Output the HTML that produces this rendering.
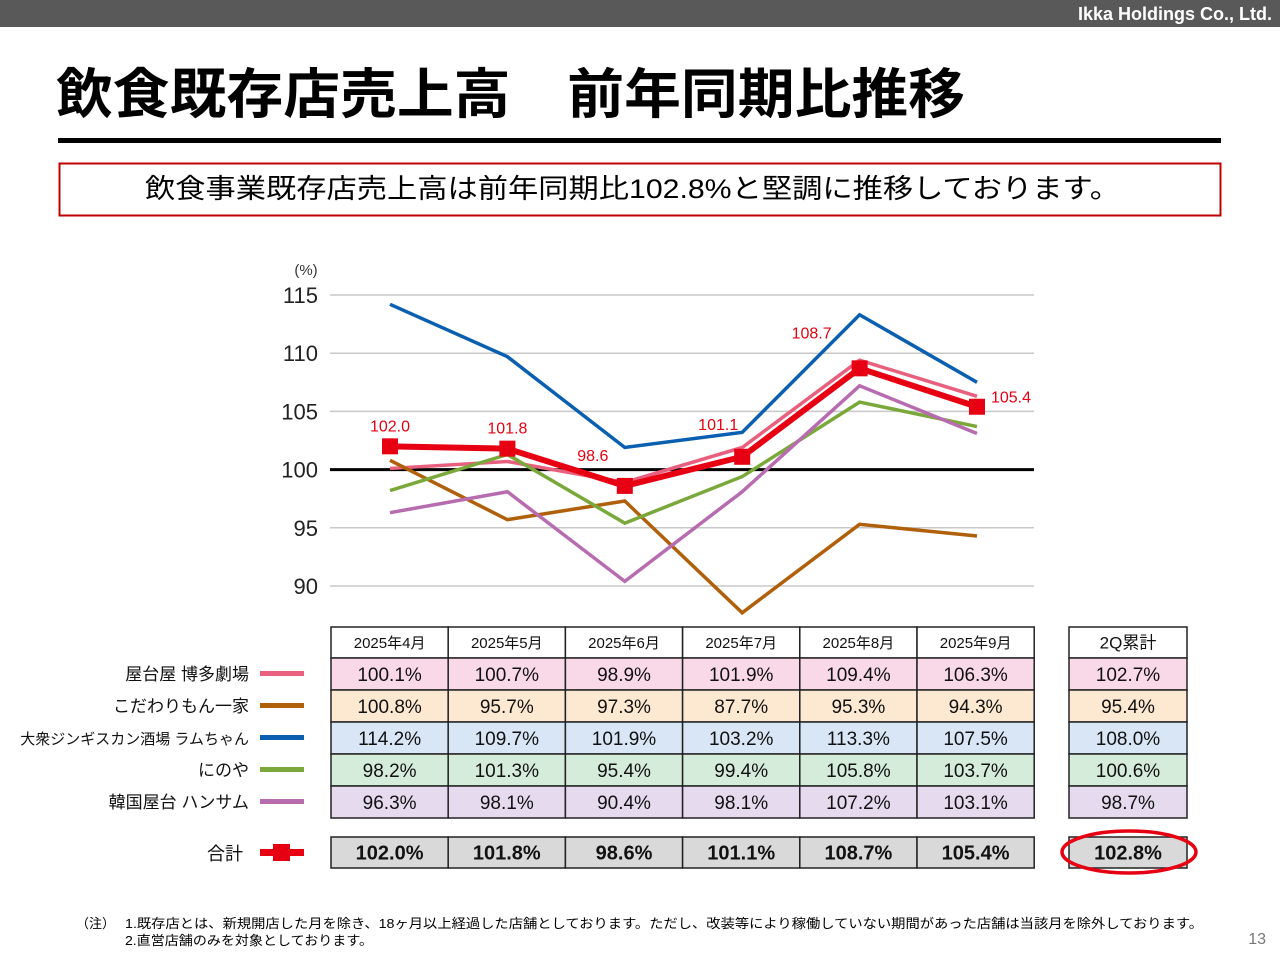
<!DOCTYPE html>
<html><head><meta charset="utf-8"><style>
html,body{margin:0;padding:0;background:#fff;}
svg{display:block;font-family:"Liberation Sans","Noto Sans CJK JP",sans-serif;}
</style></head><body>
<svg id="s" width="1280" height="960" viewBox="0 0 1280 960" xmlns="http://www.w3.org/2000/svg">
<rect x="0" y="0" width="1280" height="27" fill="#595959"/>
<text x="1272" y="20" text-anchor="end" fill="#fff" font-size="18" font-weight="bold">Ikka Holdings Co., Ltd.</text>
<text x="56" y="113" font-size="54" font-weight="bold" fill="#000" textLength="909" lengthAdjust="spacingAndGlyphs">飲食既存店売上高　前年同期比推移</text>
<rect x="58" y="138" width="1163" height="5" fill="#000"/>
<rect x="59.5" y="163.5" width="1161" height="52" fill="#fff" stroke="#c00000" stroke-width="2"/>
<text x="145" y="198" font-size="27" fill="#000" textLength="975" lengthAdjust="spacingAndGlyphs">飲食事業既存店売上高は前年同期比102.8%と堅調に推移しております。</text>
<g id="chart"></g>
<g id="table"></g>
<text x="76" y="928" font-size="13">（注）</text>
<text x="125" y="928" font-size="13" textLength="1078" lengthAdjust="spacingAndGlyphs">1.既存店とは、新規開店した月を除き、18ヶ月以上経過した店舗としております。ただし、改装等により稼働していない期間があった店舗は当該月を除外しております。</text>
<text x="125" y="945" font-size="13" textLength="248" lengthAdjust="spacingAndGlyphs">2.直営店舗のみを対象としております。</text>
<text x="1266" y="944" text-anchor="end" font-size="16" fill="#777">13</text>
</svg>
<script>
const months=["2025年4月","2025年5月","2025年6月","2025年7月","2025年8月","2025年9月"];
const seriesNames=["屋台屋 博多劇場","こだわりもん一家","大衆ジンギスカン酒場 ラムちゃん","にのや","韓国屋台 ハンサム"];
const yatai=[100.1,100.7,98.9,101.9,109.4,106.3];
const kodawari=[100.8,95.7,97.3,87.7,95.3,94.3];
const ramu=[114.2,109.7,101.9,103.2,113.3,107.5];
const ninoya=[98.2,101.3,95.4,99.4,105.8,103.7];
const hansamu=[96.3,98.1,90.4,98.1,107.2,103.1];
const total=[102.0,101.8,98.6,101.1,108.7,105.4];
const q2=[102.7,95.4,108.0,100.6,98.7];
const q2Total=102.8;
const yTicks=[90,95,100,105,110,115];

const NS="http://www.w3.org/2000/svg";
function mk(tag,attrs,parent,txt){const e=document.createElementNS(NS,tag);for(const k in attrs)e.setAttribute(k,attrs[k]);if(txt!==undefined)e.textContent=txt;parent.appendChild(e);return e;}
const x=i=>390+i*117.4;
const y=v=>586-(v-90)*11.64;
const chart=document.getElementById('chart');
const colors=["#e8607e","#b0600a","#0a5fb0","#7aa83a","#b86cb0"];
const bgs=["#f9d9e8","#fde9d2","#d9e6f5","#d6ecdb","#e5daee"];
const all=[yatai,kodawari,ramu,ninoya,hansamu];

let t=mk('text',{x:306,y:275,'text-anchor':'middle','font-size':15,fill:'#333'},chart,'(%)');

yTicks.forEach(v=>{
  const g=mk('line',{x1:330,x2:1034,y1:y(v),y2:y(v),stroke:v===100?'#000':'#c8c8c8','stroke-width':v===100?3:1.5},chart);
  
  const l=mk('text',{x:318,y:y(v)+8,'text-anchor':'end','font-size':22,fill:'#222'},chart,v);
  
});
all.forEach((arr,si)=>{
  const p=mk('polyline',{points:arr.map((v,i)=>x(i)+','+y(v)).join(' '),fill:'none',stroke:colors[si],'stroke-width':3.5},chart);
  
});
const tl=mk('polyline',{points:total.map((v,i)=>x(i)+','+y(v)).join(' '),fill:'none',stroke:'#e60012','stroke-width':6},chart);

const lblOff=[[0,-15],[0,-15],[-32,-25],[-24,-27],[-48,-30],[34,-4]];
total.forEach((v,i)=>{
  const r=mk('rect',{x:x(i)-8,y:y(v)-8,width:16,height:16,fill:'#e60012'},chart);
  
  const l=mk('text',{x:x(i)+lblOff[i][0],y:y(v)+lblOff[i][1],'text-anchor':'middle','font-size':16,fill:'#e60012'},chart,v.toFixed(1));
  
});

const tb=document.getElementById('table');
const cw=117.2,x0=331;
function cell(cx,cy,w,h,fill,txt,fs,bold,name){
  const r=mk('rect',{x:cx,y:cy,width:w,height:h,fill:fill,stroke:'#222','stroke-width':1.5},tb);
  
  const tt=mk('text',{x:cx+w/2,y:cy+h/2+fs*0.36,'text-anchor':'middle','font-size':fs,'font-weight':bold?'bold':'normal',fill:'#111'},tb,txt);
  
}
months.forEach((m,i)=>cell(x0+i*cw,627,cw,31,'#fff',m,15,false,'month-header'));
cell(1069,627,118,31,'#fff','2Q累計',17,false,'q2-header');
all.forEach((arr,si)=>{
  const ry=658+si*32;
  arr.forEach((v,i)=>cell(x0+i*cw,ry,cw,32,bgs[si],v.toFixed(1)+'%',19,false,'series-value'));
  cell(1069,ry,118,32,bgs[si],q2[si].toFixed(1)+'%',19,false,'q2-value');
  const lab=mk('text',{x:249,y:ry+22,'text-anchor':'end','font-size':si===2?15:17,fill:'#111'},tb,seriesNames[si]);
  
  const sw=mk('rect',{x:260,y:ry+13,width:44,height:5,fill:colors[si]},tb);
  
});
total.forEach((v,i)=>cell(x0+i*cw,837,cw,31,'#d9d9d9',v.toFixed(1)+'%',20,true,'total-value'));
cell(1069,837,118,31,'#d9d9d9',q2Total.toFixed(1)+'%',20,true,'q2-total');
let tt2=mk('text',{x:243,y:860,'text-anchor':'end','font-size':18,fill:'#111'},tb,'合計');

let a=mk('rect',{x:260,y:849,width:44,height:7,fill:'#e60012'},tb);
let b=mk('rect',{x:273,y:844,width:17,height:17,fill:'#e60012'},tb);
let e=mk('ellipse',{cx:1129,cy:852,rx:67,ry:21,fill:'none',stroke:'#e60012','stroke-width':3.5},tb);

</script>
</body></html>
